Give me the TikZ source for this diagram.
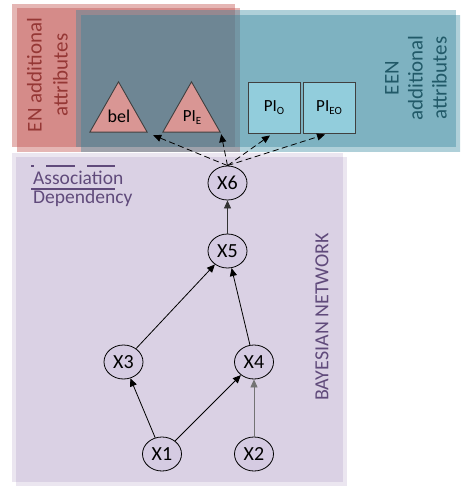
\documentclass[tikz,border=0pt]{standalone}
\usepackage{fontspec}
\setmainfont{Carlito}
\usetikzlibrary{arrows.meta,shapes.geometric}
\definecolor{enred}{HTML}{C0504D}
\definecolor{eenteal}{HTML}{31859C}
\definecolor{bnpurple}{HTML}{8064A2}
\definecolor{entext}{HTML}{953735}
\definecolor{eentext}{HTML}{215968}
\definecolor{bntext}{HTML}{604A7B}
\definecolor{nodefill}{HTML}{D5CBE2}
\definecolor{trifill}{HTML}{D99694}
\definecolor{sqfill}{HTML}{92CDDC}
\newcommand{\mysub}[1]{\raisebox{-2.5pt}{\fontsize{11}{11}\selectfont #1}}
\begin{document}
\begin{tikzpicture}[x=1pt,y=-1pt,
  bnnode/.style={ellipse,draw=black,line width=0.8pt,fill=nodefill,minimum width=39pt,minimum height=34pt,inner sep=0pt,font=\fontsize{20}{24}\selectfont},
  sqnode/.style={rectangle,draw=black!75,line width=0.9pt,fill=sqfill,minimum width=52pt,minimum height=51pt,inner sep=0pt,font=\fontsize{17}{20}\selectfont},
  tribox/.style={rectangle,draw=none,minimum width=57pt,minimum height=50pt,inner sep=0pt},
  trishape/.style={draw=black!75,fill=trifill,line width=0.9pt,line join=miter},
  dep/.style={line width=0.8pt,-{Triangle[length=8pt,width=7pt]}},
  assoc/.style={dep,dash pattern=on 6pt off 3.5pt},
  bigtext/.style={rotate=90,align=center,inner sep=0pt}
]
\clip (0,0) rectangle (460,486);
% EN region (shape + shadow)
\fill[enred,opacity=0.42] (12,4) rectangle (235,147);
\fill[enred,opacity=0.42] (17,8) rectangle (240,152);
% EEN region
\fill[eenteal,opacity=0.39] (76,10) rectangle (456,147);
\fill[eenteal,opacity=0.39] (81,15) rectangle (461,152);
% Bayesian network region
\fill[bnpurple,opacity=0.16] (12,153) rectangle (343,482);
\fill[bnpurple,opacity=0.16] (16,157) rectangle (347,486);

% region labels
\node[bigtext,text=entext,font=\fontsize{21}{26}\selectfont] (entitle) at (47.5,75) {EN additional\\attributes};
\node[bigtext,text=eentext,font=\fontsize{21}{24}\selectfont] (eentitle) at (416,78) {EEN\\additional\\attributes};
\node[bigtext,text=bntext,font=\fontsize{20}{24}\selectfont] (bntitle) at (322,317) {BAYESIAN NETWORK};

% legend
\draw[bntext,line width=2pt,dash pattern=on 29pt off 12pt,dash phase=26pt] (31,166) -- (115,166);
\node[anchor=base west,text=bntext,font=\fontsize{19.5}{23}\selectfont,inner sep=0pt] (assoclbl) at (33,185) {Association};
\draw[bntext,line width=2pt] (31,189) -- (115,189);
\node[anchor=base west,text=bntext,font=\fontsize{19.5}{23}\selectfont,inner sep=0pt] (deplbl) at (33,204) {Dependency};

% EN attribute triangles
\node[tribox] (belT) at (118.5,107) {};
\draw[trishape] (belT.north) -- (belT.south east) -- (belT.south west) -- cycle;
\node[anchor=base,inner sep=0pt,font=\fontsize{18}{20}\selectfont] (bel) at (119,123) {bel};
\node[tribox] (pieT) at (191.5,107) {};
\draw[trishape] (pieT.north) -- (pieT.south east) -- (pieT.south west) -- cycle;
\node[anchor=base,inner sep=0pt,font=\fontsize{17}{20}\selectfont] (pie) at (192,122) {PI\mysub{E}};

% EEN attribute squares
\node[sqnode] (pio) at (274,107.5) {PI\mysub{O}};
\node[sqnode] (pieo) at (329,107.5) {PI\mysub{EO}};

% Bayesian network nodes
\node[bnnode] (x6) at (227.5,183) {X6};
\node[bnnode] (x5) at (227.5,251) {X5};
\node[bnnode] (x3) at (123.5,362) {X3};
\node[bnnode] (x4) at (254,362) {X4};
\node[bnnode] (x1) at (162,454) {X1};
\node[bnnode] (x2) at (254,454) {X2};

% dependencies
\draw[dep,draw=black!80] (x5) -- (x6);
\draw[dep] (x3) -- (x5);
\draw[dep] (x4) -- (x5);
\draw[dep] (x1) -- (x3);
\draw[dep] (x1) -- (x4);
\draw[dep,draw=black!55,fill=black] (x2) -- (x4);

% associations
\draw[assoc] (x6.north) -- ([xshift=6pt,yshift=-3pt]belT.south east);
\draw[assoc] (x6.north) -- ([xshift=1pt,yshift=-2pt]pieT.south east);
\draw[assoc] (x6.north) -- ([xshift=-4pt,yshift=-2pt]pio.south);
\draw[assoc] (x6.north) -- ([xshift=-4pt,yshift=-1pt]pieo.south);
\end{tikzpicture}
\end{document}
